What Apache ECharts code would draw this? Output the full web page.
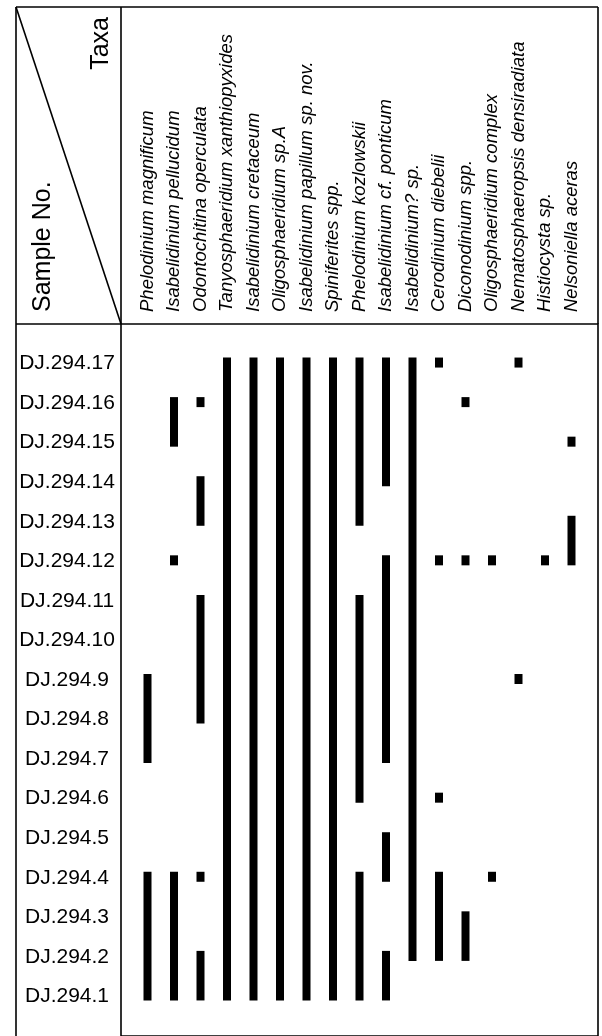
<!DOCTYPE html>
<html>
<head>
<meta charset="utf-8">
<script src="https://cdn.jsdelivr.net/npm/echarts@6.0.0/dist/echarts.min.js"></script>
<style>
  html, body { margin: 0; padding: 0; background: #fff; }
  #chart { width: 602px; height: 1036px; }
</style>
</head>
<body>
<div id="chart"></div>
<script>
// Samples, bottom (1) to top (17)
const samples = [
  'DJ.294.1', 'DJ.294.2', 'DJ.294.3', 'DJ.294.4', 'DJ.294.5', 'DJ.294.6',
  'DJ.294.7', 'DJ.294.8', 'DJ.294.9', 'DJ.294.10', 'DJ.294.11', 'DJ.294.12',
  'DJ.294.13', 'DJ.294.14', 'DJ.294.15', 'DJ.294.16', 'DJ.294.17'
];

// Taxa, left to right
const taxa = [
  'Phelodinium magnificum',
  'Isabelidinium pellucidum',
  'Odontochitina operculata',
  'Tanyosphaeridium xanthiopyxides',
  'Isabelidinium cretaceum',
  'Oligosphaeridium sp.A',
  'Isabelidinium papillum sp. nov.',
  'Spiniferites spp.',
  'Phelodinium kozlowskii',
  'Isabelidinium cf. ponticum',
  'Isabelidinium? sp.',
  'Cerodinium diebelii',
  'Diconodinium spp.',
  'Oligosphaeridium complex',
  'Nematosphaeropsis densiradiata',
  'Histiocysta sp.',
  'Nelsoniella aceras'
];

// Occurrence ranges: [taxon number (1-based), highest sample, lowest sample]
const occurrences = [
  [1, 9, 7], [1, 4, 1],
  [2, 16, 15], [2, 12, 12], [2, 4, 1],
  [3, 16, 16], [3, 14, 13], [3, 11, 8], [3, 4, 4], [3, 2, 1],
  [4, 17, 1],
  [5, 17, 1],
  [6, 17, 1],
  [7, 17, 1],
  [8, 17, 1],
  [9, 17, 13], [9, 11, 6], [9, 4, 1],
  [10, 17, 14], [10, 12, 7], [10, 5, 4], [10, 2, 1],
  [11, 17, 2],
  [12, 17, 17], [12, 12, 12], [12, 6, 6], [12, 4, 2],
  [13, 16, 16], [13, 12, 12], [13, 3, 2],
  [14, 12, 12], [14, 4, 4],
  [15, 17, 17], [15, 9, 9],
  [16, 12, 12],
  [17, 15, 15], [17, 13, 12]
];

const chart = echarts.init(document.getElementById('chart'), null, { renderer: 'canvas' });

const FONT = '"Liberation Sans", Arial, Helvetica, sans-serif';
const frameLeft = 16, frameTop = 7, frameRight = 598;
const gridLeft = 121, gridTop = 324;

function renderItem(params, api) {
  const x = api.value(0);
  const top = api.coord([x, api.value(1)]);
  const bot = api.coord([x, api.value(2)]);
  const w = 8;
  return {
    type: 'rect',
    shape: { x: top[0] - w / 2, y: top[1] - 6, width: w, height: bot[1] - top[1] + 10 },
    style: { fill: '#000' }
  };
}

const lineStyle = { stroke: '#000', lineWidth: 1.6 };

chart.setOption({
  animation: false,
  backgroundColor: '#fff',
  grid: {
    left: gridLeft, top: gridTop, right: 602 - frameRight, bottom: -5,
    show: true, borderColor: '#000', borderWidth: 1.6, backgroundColor: 'transparent'
  },
  xAxis: {
    type: 'value', position: 'top', min: 0, max: 18, interval: 1,
    axisLine: { show: false }, axisTick: { show: false }, splitLine: { show: false },
    axisLabel: {
      rotate: 90, margin: 12, fontFamily: FONT, fontSize: 18.5, fontStyle: 'italic', color: '#000',
      formatter: v => (v >= 1 && v <= taxa.length) ? taxa[v - 1] : ''
    }
  },
  yAxis: {
    type: 'value', min: 0, max: 18, interval: 1,
    axisLine: { show: false }, axisTick: { show: false }, splitLine: { show: false },
    axisLabel: {
      align: 'center', margin: 54, fontFamily: FONT, fontSize: 21, color: '#000',
      formatter: v => (v >= 1 && v <= samples.length) ? samples[v - 1] : ''
    }
  },
  series: [{
    type: 'custom',
    renderItem: renderItem,
    encode: { x: 0, y: [1, 2] },
    data: occurrences,
    clip: false
  }],
  graphic: [
    { type: 'line', shape: { x1: frameLeft, y1: frameTop, x2: frameLeft, y2: 1040 }, style: lineStyle },
    { type: 'line', shape: { x1: frameLeft, y1: frameTop, x2: frameRight, y2: frameTop }, style: lineStyle },
    { type: 'line', shape: { x1: frameRight, y1: frameTop, x2: frameRight, y2: gridTop }, style: lineStyle },
    { type: 'line', shape: { x1: gridLeft, y1: frameTop, x2: gridLeft, y2: gridTop }, style: lineStyle },
    { type: 'line', shape: { x1: frameLeft, y1: gridTop, x2: gridLeft, y2: gridTop }, style: lineStyle },
    { type: 'line', shape: { x1: frameLeft, y1: frameTop, x2: gridLeft, y2: gridTop }, style: lineStyle },
    {
      type: 'text', x: 43, y: 312, rotation: Math.PI / 2,
      style: { text: 'Sample No.', font: '25px ' + FONT, fill: '#000', textAlign: 'left', textVerticalAlign: 'middle' }
    },
    {
      type: 'text', x: 101, y: 17, rotation: Math.PI / 2,
      style: { text: 'Taxa', font: '25px ' + FONT, fill: '#000', textAlign: 'right', textVerticalAlign: 'middle' }
    }
  ]
});
</script>
</body>
</html>
